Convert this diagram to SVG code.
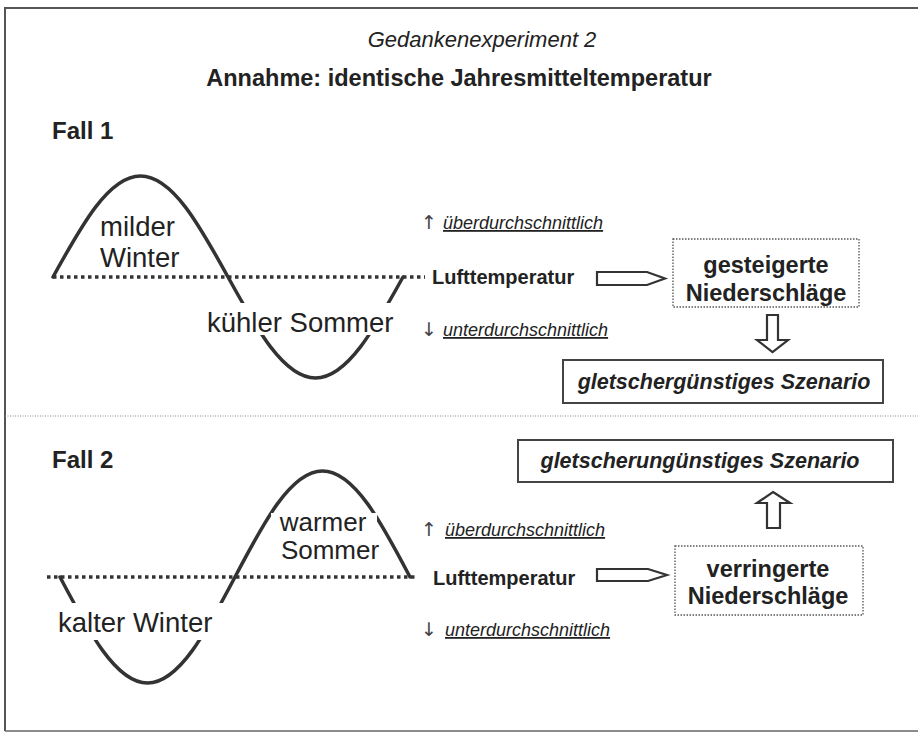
<svg xmlns="http://www.w3.org/2000/svg" width="918" height="734" viewBox="0 0 918 734">
<style>
.t{font-family:"Liberation Sans",Arial,sans-serif;fill:#222}
.b{font-weight:bold}
.i{font-style:italic}
.u{text-decoration:underline}
.arr{font-family:"DejaVu Sans",sans-serif;fill:#444;font-size:19px}
.lbl{font-size:27.5px}
.dev{font-size:18px}
.lt{font-size:20px;font-weight:bold}
.ns{font-size:23.5px;font-weight:bold}
.curve{fill:none;stroke:#333;stroke-width:3.5;stroke-linecap:round}
.base{fill:none;stroke:#333;stroke-width:3.5;stroke-dasharray:3.5 3.5}
.dbox{fill:#fff;stroke:#555;stroke-width:1.3;stroke-dasharray:1.5 1.5}
.sbox{fill:#fff;stroke:#444;stroke-width:2}
.blk{fill:#fff;stroke:#333;stroke-width:2.2;stroke-linejoin:miter}
.mask{fill:#fff}
</style>
<rect x="0" y="0" width="918" height="734" fill="#fff"/>
<g id="frame">
<path d="M5,731 L5,8 L918,8" fill="none" stroke="#555" stroke-width="2"/>
<path d="M5,731 L918,731" fill="none" stroke="#666" stroke-width="1.5"/>
<line x1="5" y1="416" x2="918" y2="416" stroke="#888" stroke-width="1" stroke-dasharray="1 1.5"/>
</g>
<g id="titles">
<text class="t i" x="482" y="47" font-size="22" text-anchor="middle" fill="#333">Gedankenexperiment 2</text>
<text class="t b" x="459" y="86" font-size="23.5" text-anchor="middle">Annahme: identische Jahresmitteltemperatur</text>
</g>
<g id="fall1">
<text class="t b" x="52" y="139" font-size="24">Fall 1</text>
<path class="base" d="M53,277 L425,277"/>
<path class="curve" d="M53,277 C81.5,225.3 108.8,176 140.5,176 C172.2,176 199.5,225.3 228,277 C256.5,328.7 283.8,378 315.5,378 C347.2,378 374.5,328.7 403,277"/>
<rect class="mask" x="205" y="303" width="196" height="32"/>
<text class="t lbl" x="100" y="236">milder</text>
<text class="t lbl" x="100" y="267">Winter</text>
<text class="t lbl" x="207" y="332">kühler Sommer</text>
</g>
<g id="temp1">
<text class="arr" x="421" y="229">↑</text>
<text class="t i u dev" x="443" y="229">überdurchschnittlich</text>
<text class="t lt" x="432" y="284">Lufttemperatur</text>
<text class="arr" x="421" y="336">↓</text>
<text class="t i u dev" x="443" y="336">unterdurchschnittlich</text>
</g>
<g id="niederschlag1">
<rect class="dbox" x="673" y="239" width="186" height="68"/>
<text class="t ns" x="766" y="273" text-anchor="middle">gesteigerte</text>
<text class="t ns" x="766" y="301" text-anchor="middle">Niederschläge</text>
</g>
<g id="szenario1">
<rect class="sbox" x="563" y="360" width="320" height="43"/>
<text class="t b i" x="724" y="389" font-size="21.5" text-anchor="middle">gletschergünstiges Szenario</text>
</g>
<g id="fall2">
<text class="t b" x="52" y="468" font-size="24">Fall 2</text>
<path class="base" d="M47,577 L418,577"/>
<path class="curve" d="M60,577 C88.5,631.3 115.8,683 147.5,683 C179.2,683 206.5,631.3 235,577 C263.5,522.7 290.8,471 322.5,471 C354.2,471 381.5,522.7 410,577"/>
<rect class="mask" x="55" y="603" width="172" height="37"/>
<rect class="mask" x="271" y="513" width="106" height="22"/>
<text class="t" x="323" y="531" font-size="26" text-anchor="middle">warmer</text>
<text class="t" x="330" y="559" font-size="26" text-anchor="middle">Sommer</text>
<text class="t lbl" x="58" y="632">kalter Winter</text>
</g>
<g id="temp2">
<text class="arr" x="421" y="536">↑</text>
<text class="t i u dev" x="445" y="536">überdurchschnittlich</text>
<text class="t lt" x="433" y="585" fill="#444">Lufttemperatur</text>
<text class="arr" x="421" y="636">↓</text>
<text class="t i u dev" x="445" y="636">unterdurchschnittlich</text>
</g>
<g id="niederschlag2">
<rect class="dbox" x="675" y="546" width="188" height="69"/>
<text class="t ns" x="768" y="577" text-anchor="middle">verringerte</text>
<text class="t ns" x="768" y="604" text-anchor="middle">Niederschläge</text>
</g>
<g id="szenario2">
<rect class="sbox" x="518" y="440" width="375" height="42"/>
<text class="t b i" x="700" y="468" font-size="21.5" text-anchor="middle">gletscherungünstiges Szenario</text>
</g>
<g id="connectors">
<polygon class="blk" points="597,272 647,272 665,278.5 647,285 597,285"/>
<polygon class="blk" points="597,569 648,569 667,575 648,581 597,581"/>
<polygon class="blk" points="767,315 778,315 778,340 788,340 772.5,352 757,340 767,340"/>
<polygon class="blk" points="773,492 790,503 780,503 780,528 767,528 767,503 757,503"/>
</g>
</svg>
